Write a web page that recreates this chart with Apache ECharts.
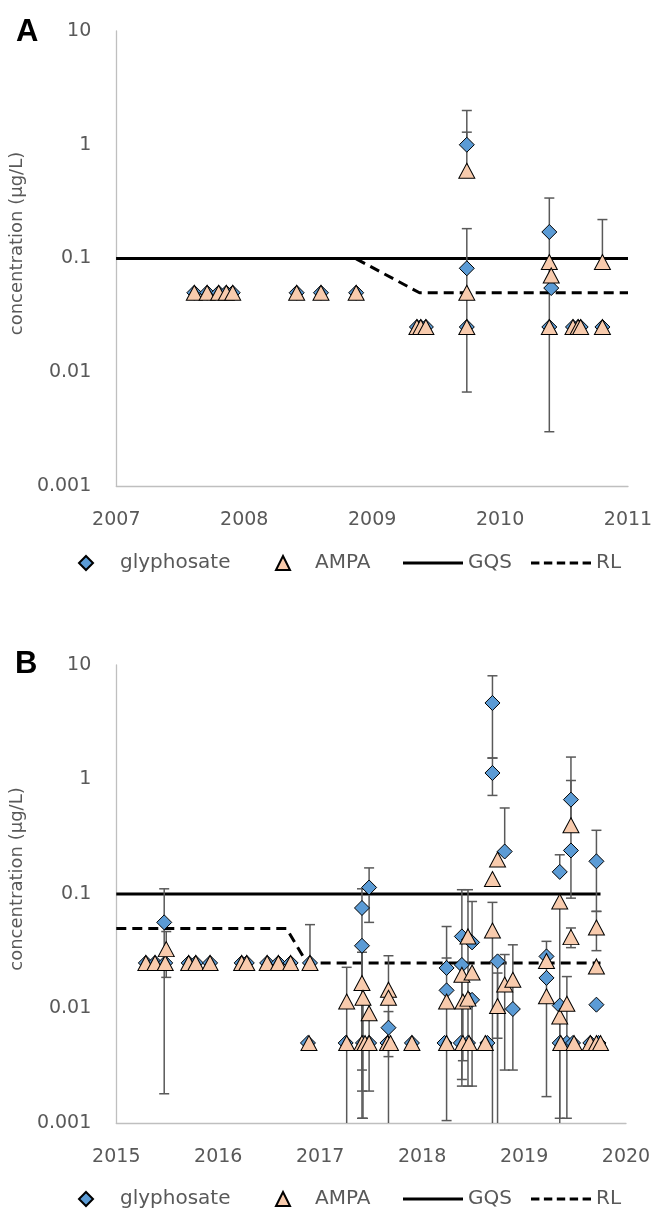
<!DOCTYPE html>
<html>
<head>
<meta charset="utf-8">
<script src="https://cdn.jsdelivr.net/npm/echarts@6/dist/echarts.min.js"></script>
<style>
  html, body { margin: 0; padding: 0; background: #fff; }
  #chart { width: 656px; height: 1213px; }
</style>
</head>
<body>
<div id="chart"></div>
<script>
// rows are [year, value, errLow, errHigh]; null = no bar on that side, 0 = bar runs to the axis
var yearsA = [2007, 2011];
var yearsB = [2015, 2020];
var yTickLabels = ['0.001', '0.01', '0.1', '1', '10'];
var legendNames = ['glyphosate', 'AMPA', 'GQS', 'RL'];

var glyA = [
    [2007.61, 0.05, null, null], [2007.71, 0.05, null, null], [2007.80, 0.05, null, null],
    [2007.86, 0.05, null, null], [2007.91, 0.05, null, null],
    [2008.41, 0.05, null, null], [2008.60, 0.05, null, null], [2008.875, 0.05, null, null],
    [2009.35, 0.025, null, null], [2009.38, 0.025, null, null], [2009.42, 0.025, null, null],
    [2009.74, 1.0, null, 2.0], [2009.74, 0.082, 0.0067, 0.183], [2009.74, 0.025, null, null],
    [2010.385, 0.171, 0.003, 0.34], [2010.40, 0.055, null, null], [2010.385, 0.025, null, null],
    [2010.57, 0.025, null, null], [2010.61, 0.025, null, null], [2010.63, 0.025, null, null],
    [2010.80, 0.025, null, null]
];
var ampaA = [
    [2007.61, 0.05, null, null], [2007.71, 0.05, null, null], [2007.80, 0.05, null, null],
    [2007.86, 0.05, null, null], [2007.91, 0.05, null, null],
    [2008.41, 0.05, null, null], [2008.60, 0.05, null, null], [2008.875, 0.05, null, null],
    [2009.35, 0.025, null, null], [2009.38, 0.025, null, null], [2009.42, 0.025, null, null],
    [2009.74, 0.59, null, 1.29], [2009.74, 0.05, null, null], [2009.74, 0.025, null, null],
    [2010.385, 0.093, null, null], [2010.40, 0.071, null, null], [2010.385, 0.025, null, null],
    [2010.57, 0.025, null, null], [2010.61, 0.025, null, null], [2010.63, 0.025, null, null],
    [2010.80, 0.093, null, 0.22], [2010.80, 0.025, null, null]
];
var gqsA = [[2007, 0.1], [2011, 0.1]];
var rlA = [[2007, 0.1], [2008.87, 0.1], [2009.37, 0.05], [2011, 0.05]];

var glyB = [
    [2015.29, 0.025, null, null], [2015.38, 0.025, null, null], [2015.47, 0.0565, 0.0018, 0.111],
    [2015.48, 0.025, null, null], [2015.71, 0.025, null, null], [2015.78, 0.025, null, null],
    [2015.92, 0.025, null, null], [2016.23, 0.025, null, null], [2016.28, 0.025, null, null],
    [2016.48, 0.025, null, null], [2016.59, 0.025, null, null], [2016.71, 0.025, null, null],
    [2016.90, 0.025, null, null], [2016.88, 0.005, null, null],
    [2017.25, 0.005, null, null],
    [2017.41, 0.0755, 0.0011, 0.111], [2017.41, 0.0353, 0.0029, null], [2017.42, 0.005, null, null],
    [2017.48, 0.114, 0.0565, 0.169], [2017.48, 0.005, null, null],
    [2017.67, 0.0068, 0.0038, 0.0094], [2017.66, 0.005, null, null],
    [2017.90, 0.005, null, null],
    [2018.24, 0.0226, null, 0.052], [2018.24, 0.0144, null, 0.0276], [2018.22, 0.005, null, null],
    [2018.39, 0.0426, 0.0021, 0.109], [2018.39, 0.024, 0.0024, null], [2018.38, 0.005, null, null],
    [2018.46, 0.040, null, null], [2018.46, 0.012, null, null], [2018.45, 0.005, null, null],
    [2018.49, 0.0378, null, 0.086], [2018.49, 0.0119, 0.0021, null],
    [2018.64, 0.005, null, null],
    [2018.69, 4.66, 1.54, 8.05], [2018.69, 1.14, 0.726, 1.54],
    [2018.74, 0.0258, 0.0055, null],
    [2018.81, 0.235, null, 0.564],
    [2018.89, 0.0099, null, null],
    [2019.22, 0.0285, 0.0017, 0.0386], [2019.22, 0.0185, null, null],
    [2019.35, 0.156, null, 0.22], [2019.35, 0.0106, null, null], [2019.35, 0.005, null, null],
    [2019.42, 0.005, null, null],
    [2019.46, 0.667, 0.092, 1.57], [2019.46, 0.24, null, null], [2019.48, 0.005, null, null],
    [2019.71, 0.193, 0.0705, 0.36], [2019.71, 0.0108, null, null],
    [2019.65, 0.005, null, null], [2019.73, 0.005, null, null]
];
var ampaB = [
    [2015.29, 0.025, null, null], [2015.38, 0.025, null, null], [2015.48, 0.025, null, null],
    [2015.49, 0.033, 0.0187, 0.047],
    [2015.71, 0.025, null, null], [2015.78, 0.025, null, null], [2015.92, 0.025, null, null],
    [2016.23, 0.025, null, null], [2016.28, 0.025, null, null], [2016.48, 0.025, null, null],
    [2016.59, 0.025, null, null], [2016.71, 0.025, null, null],
    [2016.90, 0.025, null, 0.054], [2016.89, 0.005, null, null],
    [2017.26, 0.0115, 0, 0.0229], [2017.26, 0.005, null, null],
    [2017.41, 0.0167, 0.0019, 0.031], [2017.42, 0.0124, 0.0011, null],
    [2017.41, 0.005, null, null], [2017.44, 0.005, null, null],
    [2017.48, 0.0091, 0.0019, null], [2017.48, 0.005, null, null],
    [2017.67, 0.0146, 0, 0.0289], [2017.67, 0.0124, null, null],
    [2017.66, 0.005, null, null], [2017.69, 0.005, null, null],
    [2017.90, 0.005, null, null],
    [2018.24, 0.0115, 0.00105, null], [2018.24, 0.005, null, null],
    [2018.39, 0.0197, null, null], [2018.40, 0.0115, 0.0035, null], [2018.40, 0.005, null, null],
    [2018.45, 0.0426, 0.0021, 0.109], [2018.45, 0.0122, null, null], [2018.46, 0.005, null, null],
    [2018.49, 0.0206, null, null],
    [2018.62, 0.005, null, null],
    [2018.69, 0.135, null, null], [2018.69, 0.048, 0, 0.0845],
    [2018.74, 0.2, null, null], [2018.74, 0.0105, 0, 0.0204],
    [2018.81, 0.0162, 0.0029, 0.0296],
    [2018.89, 0.0178, 0.0029, 0.036],
    [2019.22, 0.026, null, null], [2019.22, 0.0128, null, null],
    [2019.35, 0.086, 0, null], [2019.35, 0.0085, 0.0011, null], [2019.36, 0.005, null, null],
    [2019.42, 0.011, 0.0011, 0.019], [2019.49, 0.005, null, null],
    [2019.46, 0.398, null, 0.98], [2019.46, 0.042, 0.034, 0.0505],
    [2019.71, 0.051, 0.032, 0.0705], [2019.71, 0.0233, null, null],
    [2019.65, 0.005, null, null], [2019.71, 0.005, null, null], [2019.75, 0.005, null, null]
];
var gqsB = [[2015, 0.1], [2019.75, 0.1]];
var rlB = [[2015, 0.05], [2016.67, 0.05], [2016.87, 0.025], [2019.75, 0.025]];

var yMin = 0.001, yMax = 10;
var txt = '#595959';
var font = 'DejaVu Sans';
var dashIcon = 'path://M0,0h8.4v3h-8.4z M12.9,0h8.4v3h-8.4z M25.8,0h8.4v3h-8.4z M38.7,0h8.4v3h-8.4z M51.6,0h8.4v3h-8.4z';

function pts(rows) {
    return rows.map(function (r) { return [r[0], r[1]]; });
}
// error bar rows: [x, y, low, high, lowCap, highCap]
function errRows(rows) {
    return rows.filter(function (r) { return r[2] !== null || r[3] !== null; }).map(function (r) {
        var lo = r[2] === null ? r[1] : (r[2] === 0 ? yMin : r[2]);
        var hi = r[3] === null ? r[1] : r[3];
        return [r[0], r[1], lo, hi, r[2] > 0 ? 1 : 0, r[3] !== null ? 1 : 0];
    });
}
function errRender(params, api) {
    var x = api.value(0);
    var top = api.coord([x, api.value(3)]);
    var bot = api.coord([x, api.value(2)]);
    var st = { stroke: '#595959', lineWidth: 1.5 };
    var kids = [{ type: 'line', shape: { x1: top[0], y1: top[1], x2: bot[0], y2: bot[1] }, style: st }];
    if (api.value(5)) kids.push({ type: 'line', shape: { x1: top[0] - 5, y1: top[1], x2: top[0] + 5, y2: top[1] }, style: st });
    if (api.value(4)) kids.push({ type: 'line', shape: { x1: bot[0] - 5, y1: bot[1], x2: bot[0] + 5, y2: bot[1] }, style: st });
    return { type: 'group', children: kids };
}

function xAxisOf(idx, yrs) {
    return {
        type: 'value', gridIndex: idx, min: yrs[0], max: yrs[1], interval: 1,
        axisLine: { onZero: false, lineStyle: { color: '#BFBFBF', width: 1.3 } },
        axisTick: { show: false },
        splitLine: { show: false },
        axisLabel: { color: txt, fontSize: 19, fontFamily: font, margin: 25, formatter: function (v) { return String(v); } }
    };
}
function yAxisOf(idx) {
    return {
        type: 'log', logBase: 10, gridIndex: idx, min: yMin, max: yMax,
        name: 'concentration (µg/L)', nameLocation: 'middle', nameRotate: 90, nameGap: 75,
        nameTextStyle: { color: txt, fontSize: 18, fontFamily: font, padding: [0, 0, 0, 30] },
        axisLine: { show: true, lineStyle: { color: '#BFBFBF', width: 1.3 } },
        axisTick: { show: false },
        splitLine: { show: false },
        axisLabel: {
            color: txt, fontSize: 19, fontFamily: font, margin: 25,
            formatter: function (v) { return yTickLabels[Math.round(Math.log10(v)) + 3]; }
        }
    };
}
function panelSeries(idx, gly, ampa, gqs, rl) {
    return [
        { name: 'GQS', type: 'line', xAxisIndex: idx, yAxisIndex: idx, data: gqs, symbol: 'none', z: 1,
          lineStyle: { color: '#000', width: 3 }, itemStyle: { color: '#000' } },
        { name: 'RL', type: 'line', xAxisIndex: idx, yAxisIndex: idx, data: rl, symbol: 'none', z: 1,
          lineStyle: { color: '#000', width: 3, type: [10, 6] }, itemStyle: { color: '#000' } },
        { name: 'err', type: 'custom', xAxisIndex: idx, yAxisIndex: idx, z: 2, clip: true,
          renderItem: errRender, encode: { x: 0, y: 1 }, data: errRows(gly.concat(ampa)) },
        { name: 'glyphosate', type: 'scatter', xAxisIndex: idx, yAxisIndex: idx, z: 3,
          symbol: 'diamond', symbolSize: 15, data: pts(gly),
          itemStyle: { color: '#5B9BD5', borderColor: '#000', borderWidth: 1, opacity: 1 } },
        { name: 'AMPA', type: 'scatter', xAxisIndex: idx, yAxisIndex: idx, z: 4,
          symbol: 'triangle', symbolSize: [16, 15], data: pts(ampa),
          itemStyle: { color: '#F8CBAD', borderColor: '#000', borderWidth: 1, opacity: 1 } }
    ];
}
// one legend per entry so each icon keeps its own size
function legendsAt(top) {
    var base = { top: top, padding: 0, selectedMode: false,
        textStyle: { color: txt, fontSize: 20, fontFamily: font } };
    function leg(name, left, extra) {
        return Object.assign({}, base, { data: [name], left: left }, extra);
    }
    return [
        leg(legendNames[0], 78, { itemWidth: 14, itemHeight: 14, textStyle: Object.assign({}, base.textStyle, { padding: [0, 0, 0, 22] }) }),
        leg(legendNames[1], 275, { itemWidth: 14, itemHeight: 14, textStyle: Object.assign({}, base.textStyle, { padding: [0, 0, 0, 20] }) }),
        leg(legendNames[2], 403, { itemWidth: 60, itemHeight: 3, icon: 'rect' }),
        leg(legendNames[3], 531, { itemWidth: 60, itemHeight: 3, icon: dashIcon })
    ];
}

var myChart = echarts.init(document.getElementById('chart'), null, { renderer: 'canvas' });
var option = {
    animation: false,
    backgroundColor: '#fff',
    title: [
        { text: 'A', left: 16, top: 17, padding: 0, textStyle: { fontSize: 31, fontWeight: 'bold', color: '#000', fontFamily: 'Liberation Sans' } },
        { text: 'B', left: 15, top: 649, padding: 0, textStyle: { fontSize: 31, fontWeight: 'bold', color: '#000', fontFamily: 'Liberation Sans' } }
    ],
    legend: legendsAt(553).concat(legendsAt(1189)),
    grid: [
        { left: 116, top: 31, width: 512, height: 455 },
        { left: 116, top: 665, width: 510, height: 458 }
    ],
    xAxis: [xAxisOf(0, yearsA), xAxisOf(1, yearsB)],
    yAxis: [yAxisOf(0), yAxisOf(1)],
    series: panelSeries(0, glyA, ampaA, gqsA, rlA).concat(panelSeries(1, glyB, ampaB, gqsB, rlB))
};
myChart.setOption(option);
</script>
</body>
</html>
